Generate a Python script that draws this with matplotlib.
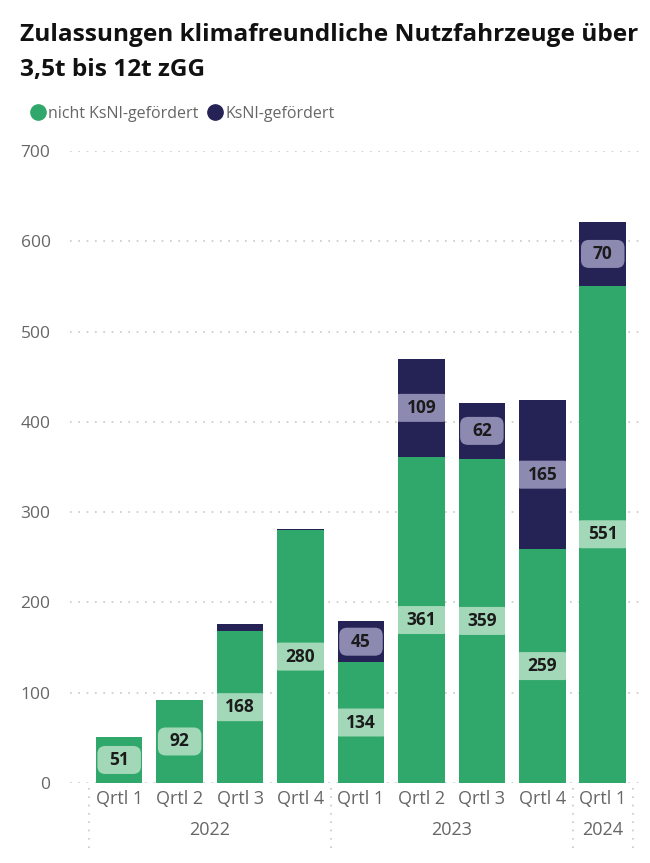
import matplotlib.pyplot as plt
from matplotlib.patches import FancyBboxPatch
from matplotlib.lines import Line2D

plt.rcParams['font.family'] = ['Open Sans', 'DejaVu Sans']

quarters = ['Qrtl 1', 'Qrtl 2', 'Qrtl 3', 'Qrtl 4', 'Qrtl 1', 'Qrtl 2', 'Qrtl 3', 'Qrtl 4', 'Qrtl 1']
years = ['2022', '2023', '2024']
year_counts = [4, 4, 1]
not_funded = [51, 92, 168, 280, 134, 361, 359, 259, 551]
funded = [0, 0, 8, 1, 45, 109, 62, 165, 70]

GREEN = '#31a86b'
NAVY = '#252256'
GREEN_LBL = '#a2d8b8'
NAVY_LBL = '#8d8ab2'
GRAY = '#666666'
BAR_W = 0.77

fig = plt.figure(figsize=(6.5, 8.63), dpi=100)
ax = fig.add_axes([70 / 650, 80 / 863, 570 / 650, 632 / 863])

x = list(range(len(quarters)))
b1 = ax.bar(x, not_funded, width=BAR_W, color=GREEN, zorder=2)
b2 = ax.bar(x, funded, width=BAR_W, bottom=not_funded, color=NAVY, zorder=2)

ax.set_xlim(-0.814, 8.616)
ax.set_ylim(0, 700)

# aspect between y-units and x-units per pixel, for round corners
aspect = (700 / 632) / (9.43 / 570)


def add_label(bar, value, base, fill):
    if value < 20:
        return
    cx = bar.get_x() + bar.get_width() / 2
    cy = base + value / 2
    h = 31
    w = 0.72 if value < 100 else 0.95
    box = FancyBboxPatch((cx - w / 2, cy - h / 2), w, h,
                         boxstyle='round,pad=0,rounding_size=0.13',
                         mutation_aspect=aspect, facecolor=fill,
                         edgecolor='none', zorder=3)
    ax.add_patch(box)
    box.set_clip_path(bar)
    ax.text(cx, cy, str(value), ha='center', va='center', fontsize=12.5,
            fontweight='bold', color='#1b1b1b', zorder=4)


for bar, v in zip(b1, not_funded):
    add_label(bar, v, 0, GREEN_LBL)
for bar, v, base in zip(b2, funded, not_funded):
    add_label(bar, v, base, NAVY_LBL)

# grid
ax.set_yticks(range(0, 701, 100))
ax.grid(axis='y', color='#c8c8c8', linestyle=(0, (1, 4)), linewidth=1.2, zorder=0)
for s in ax.spines.values():
    s.set_visible(False)
ax.tick_params(axis='y', length=0, labelsize=12.5, labelcolor=GRAY, pad=14)
ax.set_xticks(x)
ax.set_xticklabels(quarters)
ax.tick_params(axis='x', length=0, labelsize=13, labelcolor=GRAY, pad=5)

# year groups
start = 0
bounds = [-0.5]
for yr, n in zip(years, year_counts):
    ax.text(start + (n - 1) / 2, -0.074, yr, transform=ax.get_xaxis_transform(),
            ha='center', va='center', fontsize=13, color=GRAY)
    start += n
    bounds.append(start - 0.5)
for b in bounds:
    ax.axvline(b, ymin=-0.103, ymax=0, clip_on=False, color='#c8c8c8',
               linestyle=(0, (1, 4)), linewidth=1.2)

fig.text(20 / 650, 1 - 35 / 863, 'Zulassungen klimafreundliche Nutzfahrzeuge über',
         fontsize=17.6, fontweight='bold', color='#111111', va='center')
fig.text(20 / 650, 1 - 70 / 863, '3,5t bis 12t zGG',
         fontsize=17.6, fontweight='bold', color='#111111', va='center')

handles = [Line2D([], [], marker='o', linestyle='none', markersize=11, color=GREEN),
           Line2D([], [], marker='o', linestyle='none', markersize=11, color=NAVY)]
fig.legend(handles, ['nicht KsNI-gefördert', 'KsNI-gefördert'], loc='center left',
           bbox_to_anchor=(14 / 650, 1 - 114 / 863), ncol=2, frameon=False,
           fontsize=11.5, labelcolor=GRAY, handletextpad=0.0, columnspacing=0.5,
           handlelength=1.2)

fig.savefig('out.png', dpi=100, facecolor='white')
